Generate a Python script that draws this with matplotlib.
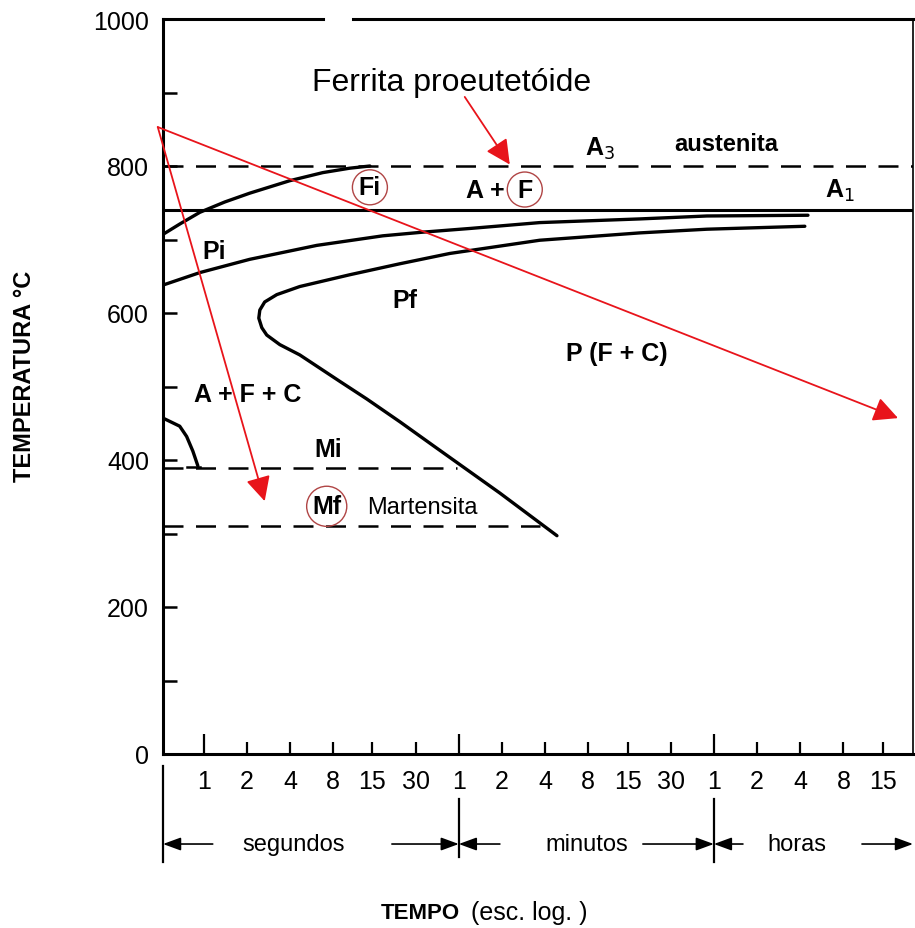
import matplotlib
matplotlib.use('Agg')
import matplotlib.pyplot as plt
from matplotlib import transforms
from matplotlib.ticker import FixedLocator, NullLocator

plt.rcParams['font.family'] = ['Liberation Sans', 'DejaVu Sans']

# ---------------- data (time in seconds, temperature in °C) ----------------
time_min, time_max = 0.52, 88000
temp_min, temp_max = 0, 1000

x_tick_times = [1, 2, 4, 8, 15, 30, 60, 120, 240, 480, 900, 1800,
                3600, 7200, 14400, 28800, 54000]
x_tick_labels = ['1', '2', '4', '8', '15', '30', '1', '2', '4', '8', '15', '30',
                 '1', '2', '4', '8', '15']
x_long_ticks = [1, 60, 3600]
y_major = [0, 200, 400, 600, 800, 1000]
y_minor = [100, 300, 500, 700, 900]

A3_temp = 800
A1_temp = 740
Mi_temp = 389
Mf_temp = 310
Mi_end_time = 58
Mf_end_time = 220

# ferrite start curve (Fi)
fi_time = [0.52, 0.68, 0.94, 1.40, 2.09, 3.98, 6.76, 10.4, 14.4]
fi_temp = [707, 721, 737, 751, 763, 780, 791, 797, 800]

# pearlite start curve (Pi)
pi_time = [0.52, 0.94, 2.09, 6.14, 17.7, 33.7, 71.6, 220, 1097, 3220, 16300]
pi_temp = [638, 655, 673, 692, 705, 710, 715, 723, 728, 732, 733]

# pearlite finish curve (Pf) - C shape, from right end round the nose
pf_time = [15500, 3220, 1097, 220, 51.9, 23.3, 10.4, 4.67, 3.23, 2.66, 2.46,
           2.42, 2.54, 2.75, 3.39, 4.67, 8.88, 13.7, 23.3, 39.5, 116, 290]
pf_temp = [718, 714, 709, 699, 681, 667, 652, 636, 625, 615, 604,
           593, 580, 570, 557, 543, 507, 483, 452, 420, 355, 297]

# small curve at lower left
bn_time = [0.52, 0.68, 0.76, 0.84, 0.91]
bn_temp = [457, 446, 432, 412, 392]
bn_foot_time = [0.76, 0.94]
bn_foot_temp = [390, 390]

# red cooling arrows: start, ends
cool_start = (0.478, 853)
cool_ends = [(69200, 457), (2.66, 344)]
ferrita_arrow_start = (66, 894)
ferrita_arrow_end = (136, 802)

# region labels: (text, time, temp, weight, size)
labels = [
    ('Pi', 1.19, 685, 'bold', 18),
    ('Pf', 25.2, 618, 'bold', 18),
    ('P (F + C)', 759, 546, 'bold', 18),
    ('A + F + C', 2.03, 490, 'bold', 18),
    ('Mi', 7.33, 415, 'bold', 18),
    ('Martensita', 33.7, 336, 'normal', 17),
    ('austenita', 4370, 831, 'bold', 17),
    ('A$_3$', 578, 825, 'bold', 18),
    ('A$_1$', 27200, 767, 'bold', 18),
    ('A +', 92, 768, 'bold', 18),
]
circled = [('Fi', 14.4, 771), ('F', 173, 768), ('Mf', 7.2, 337)]

# bottom unit bands
unit_names = ['segundos', 'minutos', 'horas']
unit_text_times = [4.24, 469, 13650]
unit_left_arrows = [(1.155, 0.52), (116, 60), (5740, 3600)]
unit_right_arrows = [(20.5, 60), (1152, 3600), (38800, 88000)]
unit_bars = [(0.52, 0.1744, 0.071), (60, 0.1389, 0.0764), (3600, 0.1389, 0.071)]

# ---------------- figure ----------------
fig = plt.figure(figsize=(9.15, 9.29), dpi=100)
ax = fig.add_axes([163/915, 1-755/929, 750/915, 735/929])
ax.set_xscale('log')
ax.set_xlim(time_min, time_max)
ax.set_ylim(temp_min, temp_max)

for s in ['left', 'bottom', 'right']:
    ax.spines[s].set_linewidth(2.2)
ax.spines['right'].set_linewidth(1.2)
ax.spines['top'].set_visible(False)
ax.axhline(temp_max, xmin=0, xmax=0.213, color='black', lw=2.2, clip_on=False)
ax.axhline(temp_max, xmin=0.253, xmax=1, color='black', lw=2.2, clip_on=False)

ax.xaxis.set_major_locator(FixedLocator(x_tick_times))
ax.xaxis.set_minor_locator(NullLocator())
ax.set_xticklabels(x_tick_labels)
ax.tick_params(axis='x', which='major', direction='in', length=8.5, width=1.6,
               pad=11, labelsize=18)
for t, tk in zip(x_tick_times, ax.xaxis.get_major_ticks()):
    if t in x_long_ticks:
        tk.tick1line.set_markersize(14.5)

ax.yaxis.set_major_locator(FixedLocator(y_major))
ax.yaxis.set_minor_locator(FixedLocator(y_minor))
ax.tick_params(axis='y', which='both', direction='in', length=10, width=1.8,
               pad=10, labelsize=18)
ax.tick_params(axis='y', which='minor', labelleft=False)

# reference lines
dash = (0, (8, 5))
ax.axhline(A3_temp, color='black', lw=1.8, ls=dash)
ax.axhline(A1_temp, color='black', lw=2.2)
ax.plot([time_min, Mi_end_time], [Mi_temp, Mi_temp], color='black', lw=1.8, ls=dash)
ax.plot([time_min, Mf_end_time], [Mf_temp, Mf_temp], color='black', lw=1.8, ls=dash)

# transformation curves
kw = dict(color='black', lw=2.4, solid_joinstyle='round', solid_capstyle='round')
ax.plot(fi_time, fi_temp, **kw)
ax.plot(pi_time, pi_temp, **kw)
ax.plot(pf_time, pf_temp, **kw)
ax.plot(bn_time, bn_temp, **kw)
ax.plot(bn_foot_time, bn_foot_temp, color='black', lw=1.8)

# labels
for txt, t, T, w, fs in labels:
    ax.text(t, T, txt, ha='center', va='center', fontsize=fs, fontweight=w)
for txt, t, T in circled:
    ax.text(t, T, txt, ha='center', va='center', fontsize=18, fontweight='bold',
            bbox=dict(boxstyle='circle,pad=0.22', fc='none', ec='#b04545', lw=1.0))

ax.text(53.6, 914, 'Ferrita proeutetóide', ha='center', va='center', fontsize=23)

# red arrows
red = '#e8141b'
aprops = dict(arrowstyle='-|>,head_length=0.6,head_width=0.3', color=red, lw=1.3,
              mutation_scale=25, shrinkA=0, shrinkB=0)
for end in cool_ends:
    ax.annotate('', xy=end, xytext=cool_start, arrowprops=aprops, annotation_clip=False)
ax.annotate('', xy=ferrita_arrow_end, xytext=ferrita_arrow_start, arrowprops=aprops,
            annotation_clip=False)

# bottom units
btr = transforms.blended_transform_factory(ax.transData, fig.transFigure)
y_arrow = 0.0904
for t, y0, y1 in unit_bars:
    ax.plot([t, t], [y0, y1], transform=btr, color='black', lw=1.6, clip_on=False)
bprops = dict(arrowstyle='-|>,head_length=0.6,head_width=0.22', color='black', lw=1.2,
              mutation_scale=18, shrinkA=0, shrinkB=0)
for (a, b) in unit_left_arrows + unit_right_arrows:
    ax.annotate('', xy=(b, y_arrow), xytext=(a, y_arrow), xycoords=btr, textcoords=btr,
                arrowprops=bprops, annotation_clip=False)
for name, t in zip(unit_names, unit_text_times):
    ax.text(t, y_arrow, name, transform=btr, ha='center', va='center', fontsize=17)

fig.text(0.5027, 0.0172, 'TEMPO', ha='right', va='center', fontsize=16, fontweight='bold')
fig.text(0.5148, 0.0172, '(esc. log. )', ha='left', va='center', fontsize=18)
fig.text(25/915, 1-376/929, 'TEMPERATURA °C', rotation=90, ha='center', va='center',
         fontsize=17, fontweight='bold')

fig.savefig('out.png', dpi=100)
